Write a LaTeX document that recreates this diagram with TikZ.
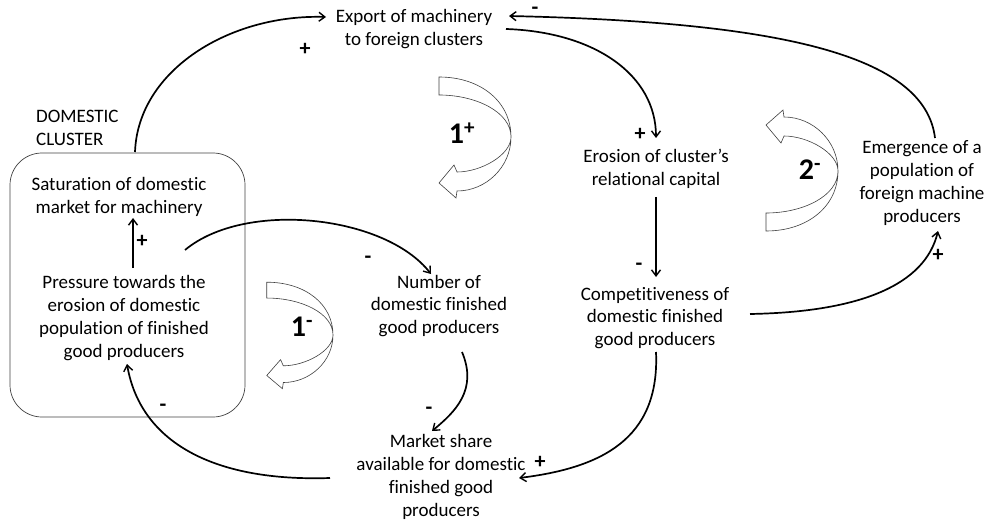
\documentclass[tikz,border=0pt]{standalone}
\usepackage{fontspec}
\setmainfont{Carlito}[Ligatures=NoCommon]
\usetikzlibrary{arrows.meta}
\begin{document}
\begin{tikzpicture}[x=1pt,y=-1pt,
  lbl/.style={align=center,font=\fontsize{19}{22.8}\selectfont,inner sep=0pt},
  conn/.style={line width=1.7pt,-{Straight Barb[length=6pt,width=9pt,line width=1.4pt]}},
  sgn/.style={font=\fontsize{22}{22}\selectfont\bfseries,inner sep=0pt},
  loopnum/.style={font=\fontsize{30}{30}\selectfont\bfseries,inner sep=0pt},
  ribbon/.style={draw=black!75,line width=0.6pt,fill=white}]
\useasboundingbox (0,0) rectangle (1000,529);
% domestic cluster box
\draw[line width=0.7pt,black!75,rounded corners=32pt] (10,153) rectangle (245,417);
\node[lbl,align=left,anchor=west] (dc) at (36,128) {DOMESTIC\\CLUSTER};
% nodes
\node[lbl] (exp) at (414,29) {Export of machinery\\to foreign clusters};
\node[lbl] (sat) at (119,197) {Saturation of domestic\\market for machinery};
\node[lbl] (pre) at (124,318) {Pressure towards the\\erosion of domestic\\population of finished\\good producers};
\node[lbl] (num) at (439,306) {Number of\\domestic finished\\good producers};
\node[lbl] (mkt) at (441,477) {Market share\\available for domestic\\finished good\\producers};
\node[lbl] (ero) at (656,169) {Erosion of cluster’s\\relational capital};
\node[lbl] (com) at (655,318) {Competitiveness of\\domestic finished\\good producers};
\node[lbl] (eme) at (922,183) {Emergence of a\\population of\\foreign machine\\producers};
% anchor coordinates
\coordinate (c1a) at (135,152);
\coordinate (c1b) at (326,17);
\coordinate (c2a) at (506,29);
\coordinate (c2b) at (656,138);
\coordinate (c3a) at (935,138);
\coordinate (c3b) at (509,16);
\coordinate (c4a) at (656,197);
\coordinate (c4b) at (656,277);
\coordinate (c5a) at (750,314);
\coordinate (c5b) at (938,231);
\coordinate (c6a) at (656,352);
\coordinate (c6b) at (519,478);
\coordinate (c7a) at (462,352);
\coordinate (c7b) at (432,431);
\coordinate (c8a) at (330,478);
\coordinate (c8b) at (127,364);
\coordinate (c9a) at (133,268);
\coordinate (c9b) at (133,218);
\coordinate (c10a) at (185,250);
\coordinate (c10b) at (431,274);
% connectors
\draw[conn] (c1a) .. controls (138,70) and (230,14) .. (c1b);
\draw[conn] (c2a) .. controls (595,32) and (656,75) .. (c2b);
\draw[conn] (c3a) .. controls (925,55) and (780,22) .. (c3b);
\draw[conn] (c4a) -- (c4b);
\draw[conn] (c5a) .. controls (860,312) and (925,285) .. (c5b);
\draw[conn] (c6a) .. controls (660,440) and (600,468) .. (c6b);
\draw[conn] (c7a) .. controls (478,390) and (455,412) .. (c7b);
\draw[conn] (c8a) .. controls (210,482) and (140,440) .. (c8b);
\draw[conn] (c9a) -- (c9b);
\draw[conn] (c10a) .. controls (245,200) and (385,215) .. (c10b);
% signs
\node[sgn] (s1) at (305,49) {+};
\node[sgn] (s2) at (640,134) {+};
\node[sgn] (s3) at (535,11) {-};
\node[sgn] (s4) at (639,267) {-};
\node[sgn] (s5) at (938,255) {+};
\node[sgn] (s6) at (540,462) {+};
\node[sgn] (s7) at (429,411) {-};
\node[sgn] (s8) at (163,408) {-};
\node[sgn] (s9) at (142,241) {+};
\node[sgn] (s10) at (368,260) {-};
% loop ribbons
\def\ribbonpath{(-72,-60) .. controls (-30,-60) and (0,-35) .. (0,0) .. controls (0,30) and (-25,54) .. (-54,54) -- (-55,61) -- (-72,46) -- (-57,28) -- (-54,35) .. controls (-30,35) and (0,18) .. (0,0) .. controls (0,-25) and (-35,-42) .. (-72,-42) -- cycle}
\begin{scope}[shift={(511,137)}]
  \draw[ribbon] \ribbonpath;
\end{scope}
\begin{scope}[shift={(838,171)},yscale=-1]
  \draw[ribbon] \ribbonpath;
\end{scope}
\begin{scope}[shift={(333,335)},xscale=0.92,yscale=0.88]
  \draw[ribbon] \ribbonpath;
\end{scope}
\node[loopnum] (l1p) at (462,133) {1\textsuperscript{+}};
\node[loopnum] (l2m) at (810,170) {2\textsuperscript{-}};
\node[loopnum] (l1m) at (302,327) {1\textsuperscript{-}};
\end{tikzpicture}
\end{document}
